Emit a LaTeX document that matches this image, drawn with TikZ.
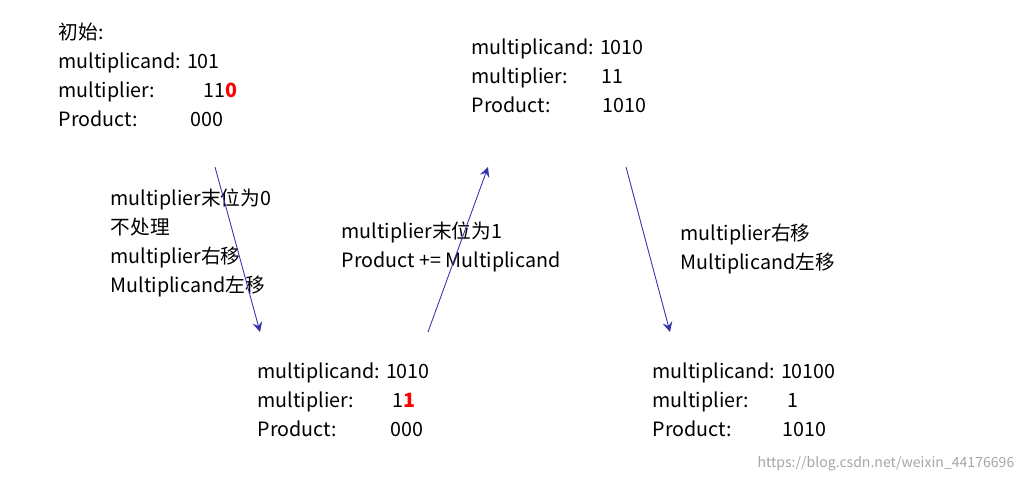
\documentclass[tikz,border=0pt]{standalone}
\usepackage{fontspec}
\setmainfont{Noto Sans CJK SC}
\tikzset{>=stealth}
\usetikzlibrary{positioning}
\tikzset{
  txt/.style={anchor=west,align=left,inner sep=0pt,font=\fontsize{5.6}{8.25}\selectfont},
  flow/.style={->,draw=blue!60!black!80,line width=0.25pt},
}
\newcommand{\lab}[1]{\makebox[1.45cm][l]{#1}}
\newcommand{\hot}[1]{\textcolor{red}{\textbf{#1}}}

\begin{document}
\begin{tikzpicture}[x=0.01cm,y=-0.01cm]
    \useasboundingbox (0,0) rectangle (1024,482);
    % states
    \node[txt] (start) at (58,75) {初始:\\multiplicand: 101\\\lab{multiplier:}11\hot{0}\\\makebox[1.32cm][l]{Product:}000};
    \node[txt] (two) at (471,76) {multiplicand: 1010\\\makebox[1.3cm][l]{multiplier:}11\\\makebox[1.31cm][l]{Product:}1010};
    \node[txt] (one) at (257,400) {multiplicand: 1010\\\makebox[1.35cm][l]{multiplier:}1\hot{1}\\\makebox[1.33cm][l]{Product:}000};
    \node[txt] (three) at (652,400) {multiplicand: 10100\\\makebox[1.35cm][l]{multiplier:}1\\\makebox[1.3cm][l]{Product:}1010};
    % steps
    \node[txt] (s1) at (110,243) {multiplier末位为0\\不处理\\multiplier右移\\Multiplicand左移};
    \node[txt] (s2) at (341,247) {multiplier末位为1\\Product += Multiplicand};
    \node[txt] (s3) at (680,249) {multiplier右移\\Multiplicand左移};
    \coordinate (a1) at (215,167); \coordinate (b1) at (260,332);
    \coordinate (a2) at (428,332); \coordinate (b2) at (488,167);
    \coordinate (a3) at (626,167); \coordinate (b3) at (670,332);
    \draw[flow] (a1) -- (b1);
    \draw[flow] (a2) -- (b2);
    \draw[flow] (a3) -- (b3);
    \node[txt,anchor=east,font=\fontsize{4}{5}\selectfont,text=black!35] (mark) at (1015,464) {https://blog.csdn.net/weixin\_44176696};
\end{tikzpicture}
\end{document}
